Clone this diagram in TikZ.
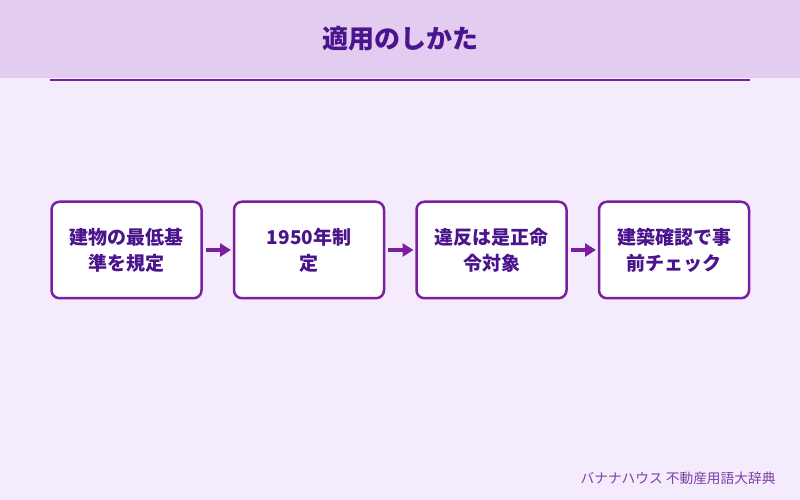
\documentclass[tikz,border=0pt]{standalone}
\usepackage{fontspec}
\setmainfont{Noto Sans CJK JP}
\usetikzlibrary{arrows.meta,positioning}
\definecolor{hwBand}{HTML}{E2CCF0}
\definecolor{hwBack}{HTML}{F4ECFC}
\definecolor{hwLine}{HTML}{7B1FA2}
\definecolor{hwText}{HTML}{4A148C}
\definecolor{hwFoot}{HTML}{7B3FA8}

\begin{document}
\begin{tikzpicture}[x=1pt, y=1pt,
  stepbox/.style={draw=hwLine, line width=2.5pt, rounded corners=8pt, fill=white, align=center, text=hwText,
    minimum width=150pt, minimum height=96.5pt, inner sep=0pt, outer sep=0pt,
    font=\fontsize{19}{26}\selectfont\bfseries},
  arr/.style={-{Triangle[length=11pt, width=13pt]}, line width=4pt, color=hwLine, shorten <=4pt, shorten >=3pt}
]
  \useasboundingbox (0,0) rectangle (800,500);
  \fill[hwBack] (0,0) rectangle (800,500);
  \fill[hwBand] (0,422) rectangle (800,500);
  \node[font=\fontsize{26}{30}\selectfont\bfseries, text=hwText] (title) at (400,461) {適用のしかた};
  \coordinate (ruleL) at (50,420);
  \coordinate (ruleR) at (750,420);
  \draw[hwLine, line width=2pt] (ruleL) -- (ruleR);

  \node[stepbox] (law) at (126.5,250) {建物の最低基\\準を規定};
  \node[stepbox, right=32.5pt of law] (year) {1950年制\\定};
  \node[stepbox, right=32.5pt of year] (fix) {違反は是正命\\令対象};
  \node[stepbox, right=32.5pt of fix] (check) {建築確認で事\\前チェック};

  \draw[arr] (law) -- (year);
  \draw[arr] (year) -- (fix);
  \draw[arr] (fix) -- (check);

  \node[anchor=east, font=\fontsize{13.7}{16}\selectfont, text=hwFoot] (foot) at (779,22) {バナナハウス 不動産用語大辞典};
\end{tikzpicture}
\end{document}
